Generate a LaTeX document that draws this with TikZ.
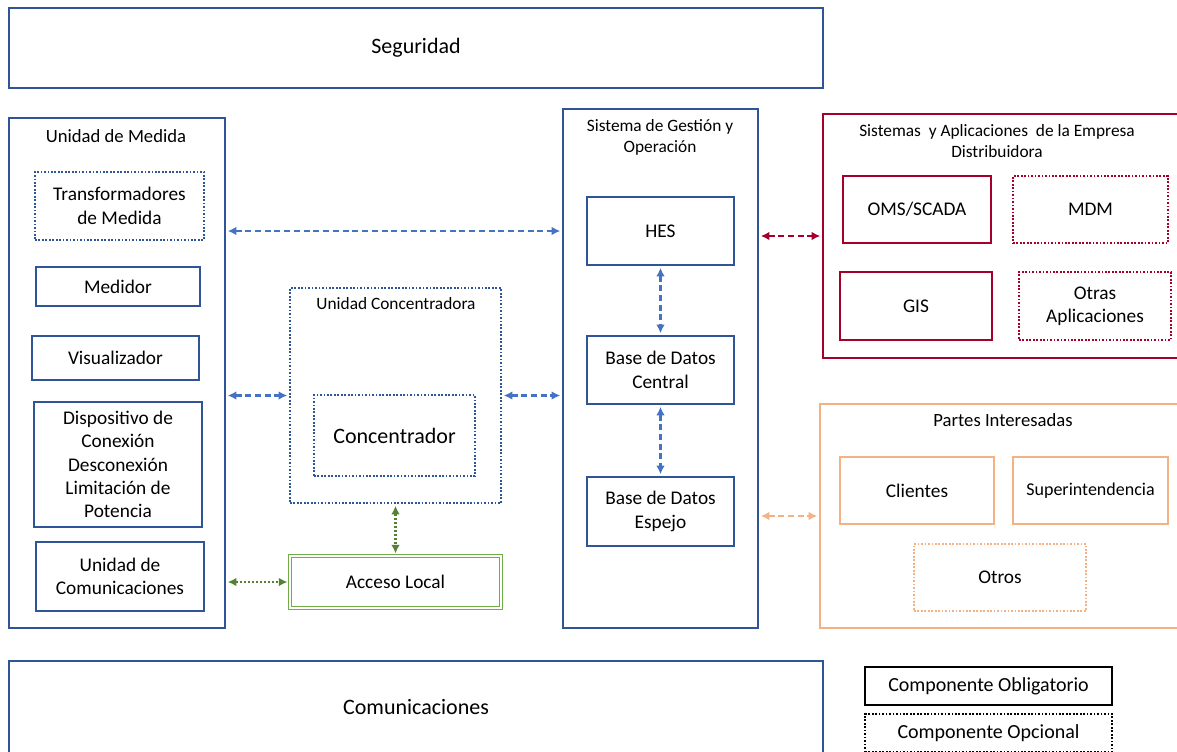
\documentclass[tikz,border=0pt]{standalone}
\usepackage{fontspec}
\setmainfont{Carlito}
\usetikzlibrary{positioning,arrows.meta}
\definecolor{boxblue}{HTML}{2F5597}
\definecolor{linkblue}{HTML}{4472C4}
\definecolor{firmred}{HTML}{A5002A}
\definecolor{partorange}{HTML}{F4B183}
\definecolor{localgreen}{HTML}{548235}
\definecolor{lightgreen}{HTML}{70AD47}
\tikzset{
    plain-box/.style = {draw=boxblue, line width=1.1pt, rectangle, align=center, inner sep=2pt, font=\fontsize{14.5}{17.5}\selectfont},
    opt-box/.style = {plain-box, dash pattern=on 1.3pt off 1.3pt},
    box-size/.style 2 args = {minimum width=#1*0.75pt, minimum height=#2*0.75pt},
    group-title/.style = {align=center, font=\fontsize{13}{16}\selectfont},
    big-text/.style = {font=\fontsize{16.5}{19}\selectfont},
    link/.style = {line width=1.6pt, dash pattern=on 4.5pt off 2.8pt, {Latex[length=6.5pt,width=6.5pt]}-{Latex[length=6.5pt,width=6.5pt]}, shorten >=1.5pt, shorten <=1.5pt},
    dot-link/.style = {link, dash pattern=on 1.5pt off 1.5pt},
}

\begin{document}
\begin{tikzpicture}[x=0.75pt, y=-0.75pt]
\useasboundingbox (0,0) rectangle (1177,751);
% franjas superior e inferior
\node[plain-box, box-size={814}{80}, big-text] (seg) at (416,48) {Seguridad};
\node[plain-box, box-size={814}{92}, big-text] (com) at (416,707) {Comunicaciones};

% unidad de medida
\node[plain-box, box-size={216}{510}] (um) at (117,373) {};
\node[group-title, font=\fontsize{14}{17}\selectfont] (um-title) at (116,136) {Unidad de Medida};
\node[opt-box, box-size={169}{68}] (tm) at (119.5,206) {Transformadores\\de Medida};
\node[plain-box, box-size={164}{39}] (med) at (118,286.5) {Medidor};
\node[plain-box, box-size={167}{44}] (vis) at (115.5,358) {Visualizador};
\node[plain-box, box-size={168}{125}] (disp) at (118,464.5) {Dispositivo de\\Conexión\\Desconexión\\Limitación de\\Potencia};
\node[plain-box, box-size={168}{69}] (ucom) at (120,576.5) {Unidad de\\Comunicaciones};

% unidad concentradora
\node[opt-box, box-size={211}{215}] (uc) at (395.5,395.5) {};
\node[group-title] (uc-title) at (396,304) {Unidad Concentradora};
\node[opt-box, box-size={161}{81}, big-text] (conc) at (394.5,435.5) {Concentrador};
\node[plain-box, box-size={211}{52}, draw=lightgreen, line width=0.8pt, double=white, double distance=1.6pt] (al) at (395.5,582) {Acceso Local};

% sistema de gestion
\node[plain-box, box-size={195}{519}] (sgo) at (660.5,368.5) {};
\node[group-title, font=\fontsize{13}{15.75}\selectfont] (sgo-title) at (660,137) {Sistema de Gestión y\\Operación};
\node[plain-box, box-size={147}{68}] (hes) at (660.5,231) {HES};
\node[plain-box, box-size={147}{68}] (bdc) at (660.5,370) {Base de Datos\\Central};
\node[plain-box, box-size={147}{69}] (bde) at (660.5,511.5) {Base de Datos\\Espejo};

% empresa distribuidora
\node[plain-box, draw=firmred, box-size={407}{244}] (sad) at (1026.5,236) {};
\node[group-title] (sad-title) at (997,141) {Sistemas\ \ y Aplicaciones\ \ de la Empresa\\Distribuidora};
\node[plain-box, draw=firmred, box-size={148}{67}] (oms) at (917,209.5) {OMS/SCADA};
\node[opt-box, draw=firmred, box-size={155}{67}] (mdm) at (1090.5,209.5) {MDM};
\node[plain-box, draw=firmred, box-size={152}{68}] (gis) at (916,306) {GIS};
\node[opt-box, draw=firmred, box-size={152}{68}] (otras) at (1095,306) {Otras\\Aplicaciones};

% partes interesadas
\node[plain-box, draw=partorange, box-size={410}{224}] (pi) at (1025,516) {};
\node[group-title, font=\fontsize{14}{17}\selectfont] (pi-title) at (1003,420) {Partes Interesadas};
\node[plain-box, draw=partorange, box-size={154}{67}] (cli) at (917,490.5) {Clientes};
\node[plain-box, draw=partorange, box-size={155}{67}, font=\fontsize{13.5}{16}\selectfont] (sup) at (1090.5,490.5) {Superintendencia};
\node[opt-box, draw=partorange, box-size={172}{67}] (otros) at (1000,577.5) {Otros};

% leyenda
\node[plain-box, draw=black, line width=1.6pt, box-size={247}{38}, font=\fontsize{15}{18}\selectfont] (leg-ob) at (988.5,686) {Componente Obligatorio};
\node[opt-box, draw=black, line width=1.6pt, box-size={247}{38}, font=\fontsize{15}{18}\selectfont] (leg-op) at (988.5,733) {Componente Opcional};

% conexiones
\draw[link, linkblue] (um.east |- hes) -- (sgo.west |- hes);
\draw[link, linkblue] (um.east |- uc) -- (uc.west);
\draw[link, linkblue] (uc.east) -- (sgo.west |- uc);
\draw[link, linkblue] (hes.south) -- (bdc.north);
\draw[link, linkblue] (bdc.south) -- (bde.north);
\draw[link, firmred] (sgo.east |- sad) -- (sad.west);
\draw[link, partorange] (sgo.east |- pi) -- (pi.west);
\draw[dot-link, localgreen] (uc.south) -- (al.north);
\draw[dot-link, localgreen] (um.east |- al) -- (al.west);
\end{tikzpicture}
\end{document}
